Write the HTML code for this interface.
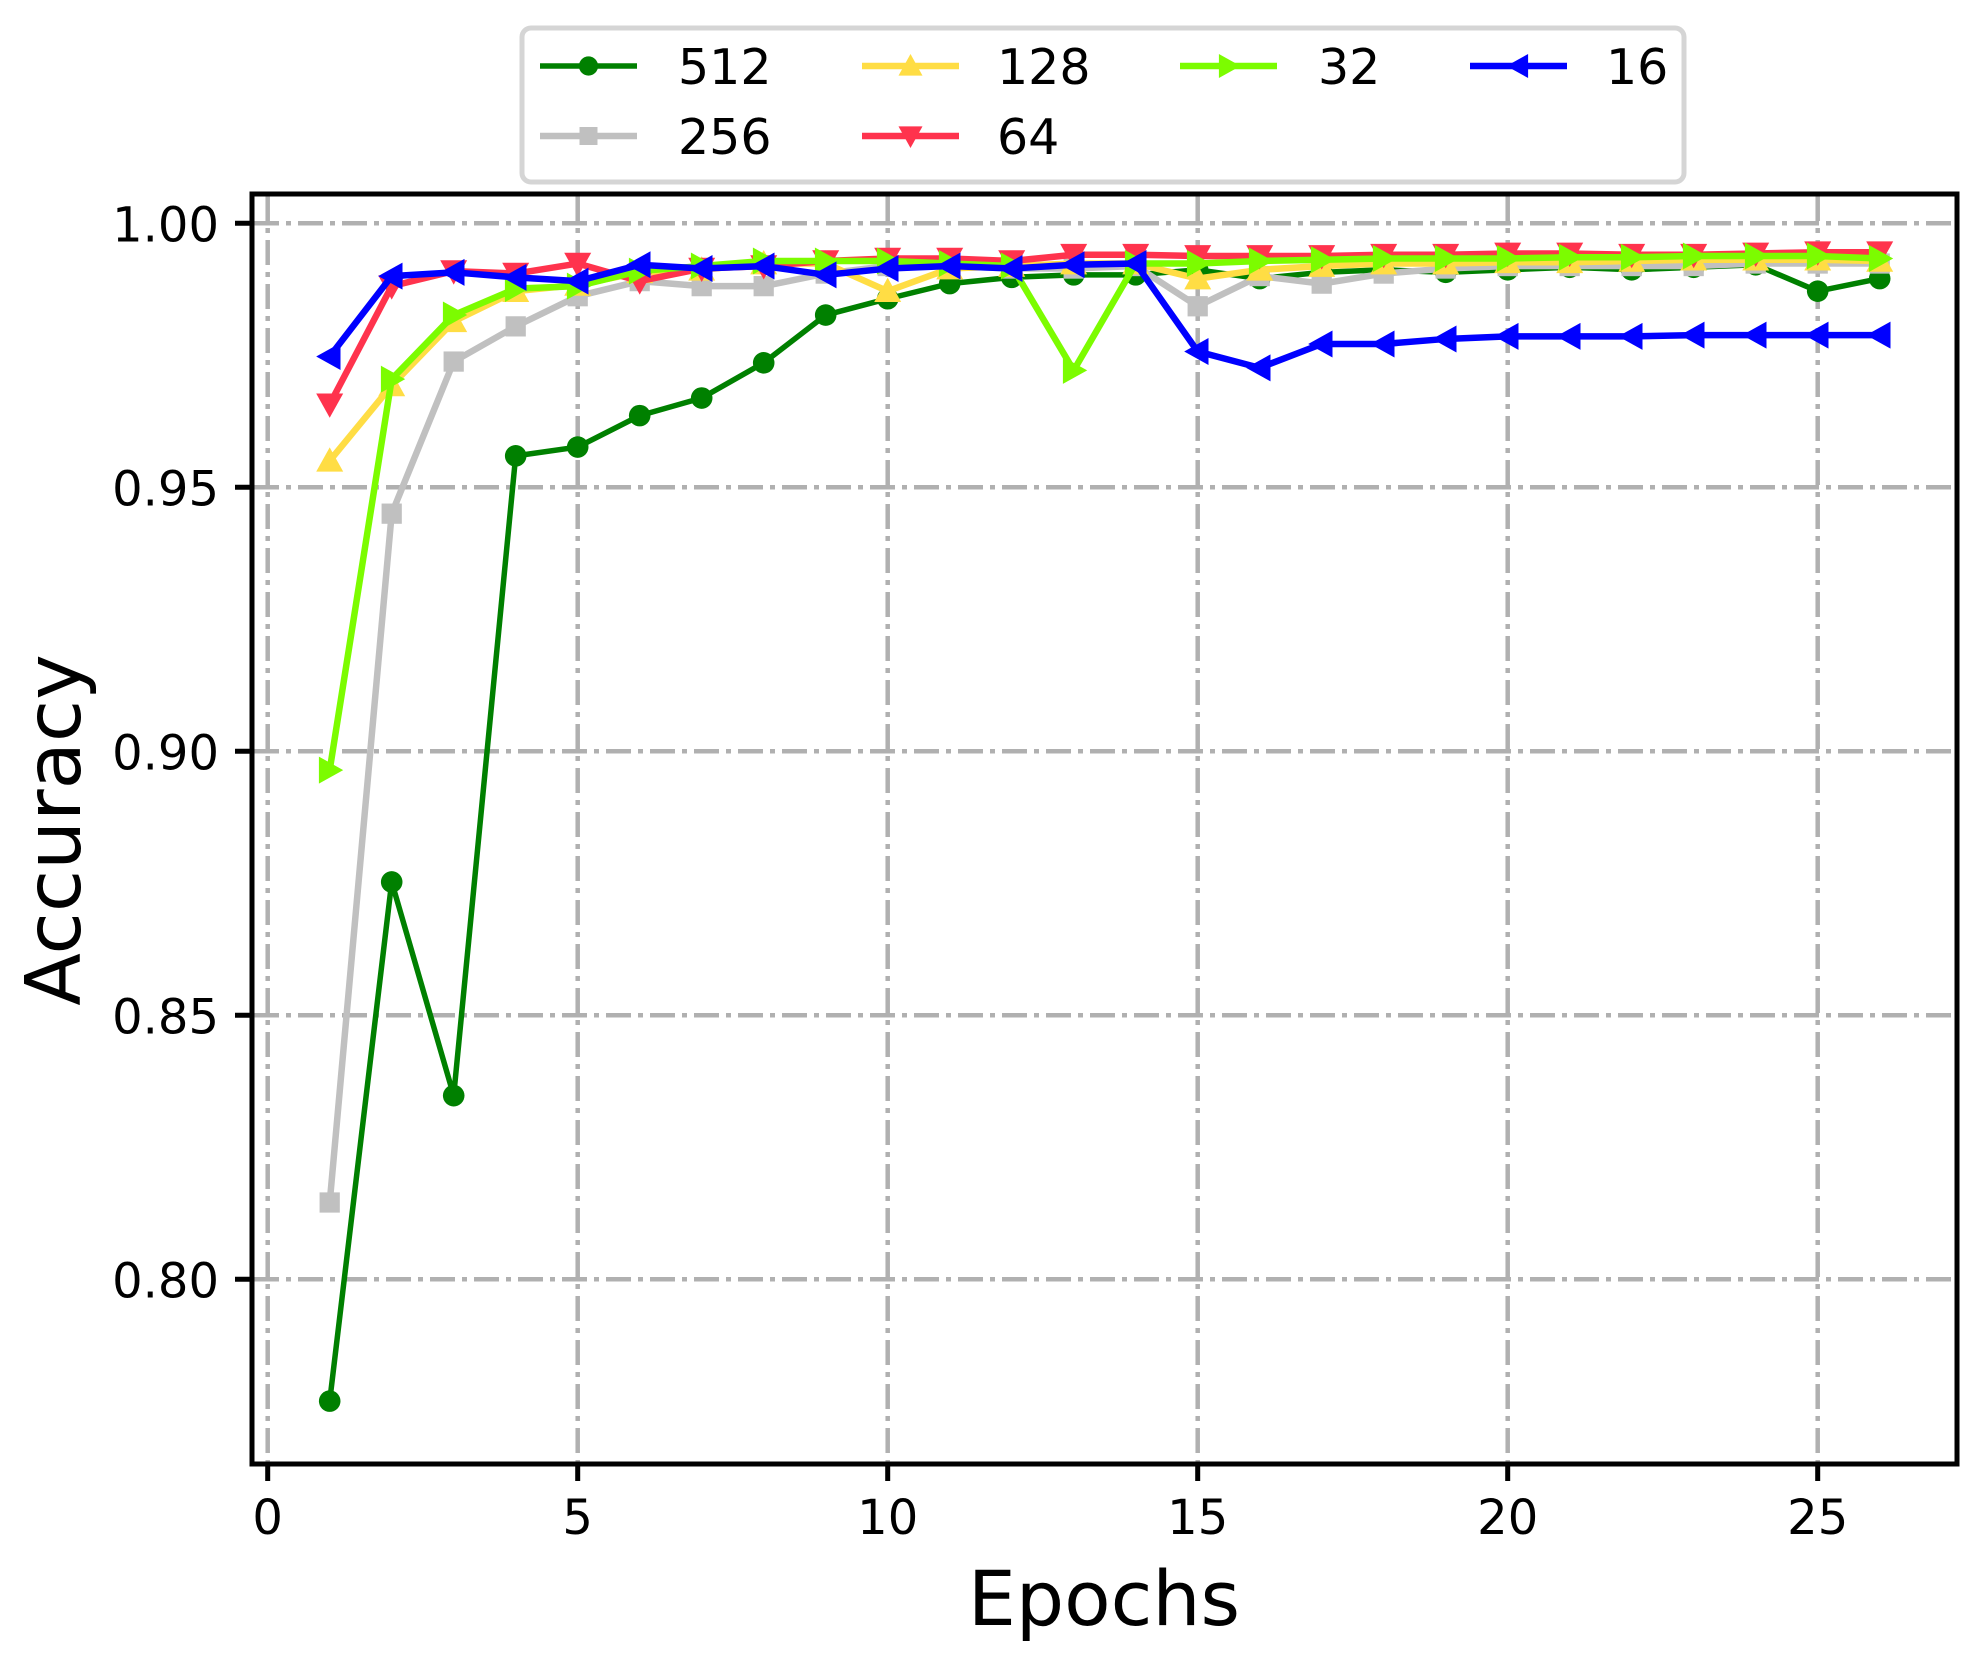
<!DOCTYPE html>
<html><head><meta charset="utf-8"><style>
html,body{margin:0;padding:0;background:#fff;}
svg{display:block;font-family:"DejaVu Sans","Liberation Sans",sans-serif;}
</style></head><body>
<svg id="c" width="1979" height="1659" viewBox="0 0 1979 1659" xmlns="http://www.w3.org/2000/svg">
<rect width="1979" height="1659" fill="#fff"/>
<g id="grid" stroke="#b0b0b0" stroke-width="4.5" stroke-dasharray="25,7,5,7" fill="none"></g>
<g id="series"></g>
<rect x="252" y="194" width="1705" height="1270" fill="none" stroke="#000" stroke-width="5"/>
<g id="ticks" stroke="#000" stroke-width="5"></g>
<g id="labels" font-size="48" fill="#000"></g>
<text x="1104" y="1625" font-size="76" text-anchor="middle">Epochs</text>
<text transform="translate(80,830) rotate(-90)" font-size="77" text-anchor="middle">Accuracy</text>
<rect x="522" y="28" width="1162" height="154" rx="9" fill="#fff" stroke="#d5d5d5" stroke-width="5"/>
<g id="legend"></g>
</svg>
<script>
const NS="http://www.w3.org/2000/svg";
function el(t,a,p){const e=document.createElementNS(NS,t);for(const k in a)e.setAttribute(k,a[k]);p.appendChild(e);return e;}
const X=x=>267.7+62*x, Y=yd=>223.3+(yd-176)*1.257;
const grid=document.getElementById('grid'),ticks=document.getElementById('ticks'),labels=document.getElementById('labels');
for(let k=0;k<=25;k+=5){const x=X(k);el('line',{x1:x,y1:196,x2:x,y2:1462},grid);el('line',{x1:x,y1:1464,x2:x,y2:1481},ticks);
 const t=el('text',{x:x,y:1534,'text-anchor':'middle'},labels);t.textContent=k;}
const yv=[[1.00,'1.00'],[0.95,'0.95'],[0.90,'0.90'],[0.85,'0.85'],[0.80,'0.80']];
yv.forEach(([v,s])=>{const y=223.3+(1-v)*5280;el('line',{x1:254,y1:y,x2:1955,y2:y},grid);el('line',{x1:235,y1:y,x2:252,y2:y},ticks);
 const t=el('text',{x:219,y:y+18,'text-anchor':'end'},labels);t.textContent=s;});
const S=[
 {n:'512',c:'#008000',m:'o',lw:5.5,d:[1113,700,870,361,354,329,315,287,249,236,224,219,217,217,213,220,215,213,215,213,211,213,211,209,230,220]},
 {n:'256',c:'#c0c0c0',m:'s',lw:6.5,d:[955,407,286,258,234,222,226,226,216,210,210,212,212,210,242,218,224,216,212,210,210,210,210,208,208,208]},
 {n:'128',c:'#ffdd44',m:'^',lw:6.5,d:[365,305,254,230,225,215,213,208,208,230,212,210,208,208,220,213,210,208,208,207,207,206,205,205,205,206]},
 {n:'64',c:'#ff334d',m:'v',lw:6.5,d:[320,226,214,216,208,222,212,210,206,204,204,206,201,201,202,202,202,201,201,200,200,201,201,200,199,199]},
 {n:'32',c:'#7cfc00',m:'>',lw:6.5,d:[611,300,249,228,226,214,210,206,206,206,208,210,293,208,208,206,205,204,204,204,203,203,202,202,202,204]},
 {n:'16',c:'#0000ff',m:'<',lw:6.5,d:[282,218,215,219,222,209,212,210,217,212,210,212,209,208,278,291,272,272,268,266,266,266,265,265,265,265]}
];
function marker(g,m,x,y,c,r){
 if(m==='o')el('circle',{cx:x,cy:y,r:r*0.8,fill:c},g);
 else if(m==='s')el('rect',{x:x-r*0.75,y:y-r*0.75,width:r*1.5,height:r*1.5,fill:c},g);
 else{let p;if(m==='^')p=[[0,-r],[r,r*0.8],[-r,r*0.8]];if(m==='v')p=[[0,r],[r,-r*0.8],[-r,-r*0.8]];
  if(m==='>')p=[[r,0],[-r*0.8,r],[-r*0.8,-r]];if(m==='<')p=[[-r,0],[r*0.8,r],[r*0.8,-r]];
  el('polygon',{points:p.map(q=>(x+q[0])+','+(y+q[1])).join(' '),fill:c},g);}
}
const sg=document.getElementById('series');
S.forEach(s=>{const g=el('g',{},sg);const pts=s.d.map((v,i)=>[X(i+1),Y(v)]);
 el('polyline',{points:pts.map(p=>p.join(',')).join(' '),fill:'none',stroke:s.c,'stroke-width':s.lw,'stroke-linejoin':'round'},g);
 pts.forEach(p=>marker(g,s.m,p[0],p[1],s.c,13.5));});
const lg=document.getElementById('legend');
const pos=[[540,66,678],[540,136,678],[862,66,997],[862,136,997],[1180,66,1318],[1470,66,1606]];
pos.forEach((q,j)=>{const s=S[j],[x,y,tx]=q;
 el('line',{x1:x,y1:y,x2:x+97,y2:y,stroke:s.c,'stroke-width':s.lw},lg);marker(lg,s.m,x+48.5,y,s.c,12);
 const t=el('text',{x:tx,y:y+18,'font-size':49},lg);t.textContent=s.n;});
</script>
</body></html>
